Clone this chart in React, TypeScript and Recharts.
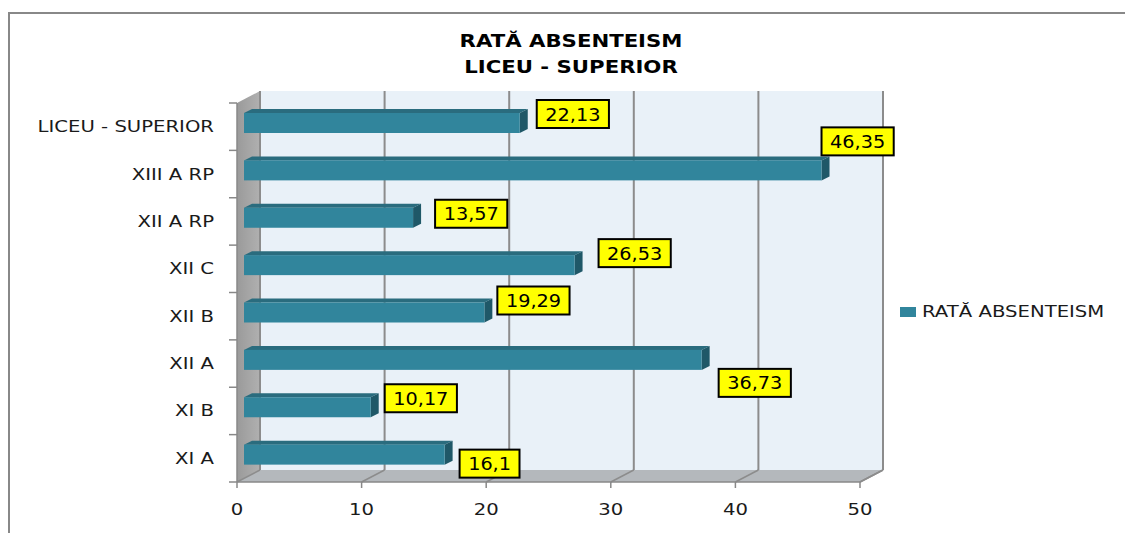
import React from 'react';
import { Bar, BarChart, CartesianGrid, LabelList, Legend, XAxis, YAxis } from 'recharts';

const categories = ['LICEU - SUPERIOR', 'XIII A RP', 'XII A RP', 'XII C', 'XII B', 'XII A', 'XI B', 'XI A'];
const rates = [22.13, 46.35, 13.57, 26.53, 19.29, 36.73, 10.17, 16.1];
const xTicks = [0, 10, 20, 30, 40, 50];
const seriesName = 'RATĂ ABSENTEISM';
const titleLines = ['RATĂ ABSENTEISM', 'LICEU - SUPERIOR'];
// where Excel dropped each yellow label: [from bar end, from bar middle]
const labelShift: [number, number][] = [
  [17, -9], [0, -29], [22, -4], [24, -12], [13, -12], [17, 23], [14, -9], [15, 9],
];

const data = categories.map((name, i) => ({ name, rate: rates[i] }));

const W = 1125;
const H = 533;
const PLOT = { left: 237, right: 860, top: 103, bottom: 482 };
const WALL_DX = 23;
const WALL_DY = -12;
const BAR_DX = 7;
const BAR_DY = -4;
const DEPTH_X = 8;
const DEPTH_Y = -4;
const FONT = '"DejaVu Sans", Verdana, sans-serif';
const TEAL = '#31859c';
const GRID = '#8c8c8c';

const fmt = (v: number) => String(v).replace('.', ',');

function Walls() {
  const { left, right, top, bottom } = PLOT;
  const bl = left + WALL_DX;
  const br = right + WALL_DX;
  const bt = top + WALL_DY;
  const bb = bottom + WALL_DY;
  return (
    <svg width={W} height={H} style={{ position: 'absolute', left: 0, top: 0 }}>
      <defs>
        <linearGradient id="sideWall" x1="0" y1="0" x2="1" y2="0">
          <stop offset="0" stopColor="#9a9a9a" />
          <stop offset="1" stopColor="#b0b0b0" />
        </linearGradient>
      </defs>
      <rect x={bl} y={bt} width={br - bl} height={bb - bt} fill="#e9f1f8" />
      <polygon points={`${left},${top} ${bl},${bt} ${bl},${bb} ${left},${bottom}`} fill="url(#sideWall)" />
      <polygon points={`${left},${bottom} ${bl},${bb} ${br},${bb} ${right},${bottom}`} fill="#b4b8bc" />
      <line x1={right} y1={bottom} x2={br} y2={bb} stroke={GRID} strokeWidth={1.5} />
      {titleLines.map((t, i) => (
        <text
          key={t}
          transform={`translate(571,${47 + i * 26}) scale(1.18,1)`}
          textAnchor="middle"
          fontFamily={FONT}
          fontWeight="bold"
          fontSize={18}
          fill="#000"
        >
          {t}
        </text>
      ))}
    </svg>
  );
}

function Bar3D(p: any) {
  const { x, y, width, height } = p;
  if (!width || width <= 0) return null;
  const fx = x + BAR_DX;
  const fy = y + BAR_DY;
  const ex = fx + width;
  return (
    <g>
      <polygon
        points={`${fx},${fy} ${ex},${fy} ${ex + DEPTH_X},${fy + DEPTH_Y} ${fx + DEPTH_X},${fy + DEPTH_Y}`}
        fill="#2a6c7e"
      />
      <polygon
        points={`${ex},${fy} ${ex + DEPTH_X},${fy + DEPTH_Y} ${ex + DEPTH_X},${fy + height + DEPTH_Y} ${ex},${fy + height}`}
        fill="#1f5868"
      />
      <rect x={fx} y={fy} width={width} height={height} fill={TEAL} />
    </g>
  );
}

function RateLabel(p: any) {
  const vb = p.viewBox && p.viewBox.width != null ? p.viewBox : p;
  const { x, y, width, height } = vb;
  const value = Number(p.value);
  const i = p.index ?? rates.indexOf(value);
  const text = fmt(value);
  const [sx, sy] = labelShift[i] ?? [16, -8];
  const endX = x + width + BAR_DX;
  const midY = y + height / 2 + BAR_DY;
  const boxW = text.replace(',', '').length * 12.3 + 23;
  const boxH = 28;
  const bx = endX + sx;
  const by = midY + sy - boxH / 2;
  return (
    <g>
      <rect x={bx} y={by} width={boxW} height={boxH} fill="#ffff00" stroke="#000" strokeWidth={2} />
      <text
        transform={`translate(${bx + boxW / 2},${by + boxH / 2 + 6.5}) scale(1.07,1)`}
        textAnchor="middle"
        fontFamily={FONT}
        fontSize={18}
        fill="#000"
      >
        {text}
      </text>
    </g>
  );
}

function CategoryTick(p: any) {
  const y = p.y;
  const label = p.payload?.value;
  const idx = categories.indexOf(label);
  const half = (PLOT.bottom - PLOT.top) / categories.length / 2;
  return (
    <g>
      <line x1={PLOT.left - 8} y1={y - half} x2={PLOT.left} y2={y - half} stroke="#888" strokeWidth={1.5} />
      {idx === categories.length - 1 && (
        <line x1={PLOT.left - 8} y1={y + half} x2={PLOT.left} y2={y + half} stroke="#888" strokeWidth={1.5} />
      )}
      <text
        transform={`translate(${PLOT.left - 23},${y + 5.5}) scale(1.31,1)`}
        textAnchor="end"
        fontFamily={FONT}
        fontSize={15}
        fill="#1a1a1a"
      >
        {label}
      </text>
    </g>
  );
}

function ValueTick(p: any) {
  return (
    <text
      transform={`translate(${p.x},${PLOT.bottom + 33}) scale(1.31,1)`}
      textAnchor="middle"
      fontFamily={FONT}
      fontSize={15}
      fill="#1a1a1a"
    >
      {p.payload?.value}
    </text>
  );
}

function LegendBox(p: any) {
  const name = p.payload?.[0]?.value ?? seriesName;
  return (
    <div style={{ display: 'flex', alignItems: 'center', fontFamily: FONT, fontSize: 15, color: '#1a1a1a' }}>
      <span style={{ display: 'inline-block', width: 16, height: 10, background: TEAL, marginRight: 6 }} />
      <span style={{ display: 'inline-block', whiteSpace: 'nowrap', transform: 'scaleX(1.31)', transformOrigin: 'left center' }}>
        {name}
      </span>
    </div>
  );
}

function GridLine(p: any) {
  const x = p.x1;
  return (
    <g key={p.key ?? `grid-${x}`}>
      <line x1={x + WALL_DX} y1={p.y1 + WALL_DY} x2={x + WALL_DX} y2={p.y2 + WALL_DY} stroke={GRID} strokeWidth={2} />
      <line x1={x} y1={p.y2} x2={x + WALL_DX} y2={p.y2 + WALL_DY} stroke={GRID} strokeWidth={1.5} />
    </g>
  );
}

export default function App() {
  return (
    <div style={{ position: 'absolute', left: 0, top: 0, width: W, height: H, background: '#fff', overflow: 'hidden' }}>
      <div
        style={{
          position: 'absolute', left: 8, top: 12, width: W, height: H,
          borderTop: '2px solid #888', borderLeft: '2px solid #888',
        }}
      />
      <Walls />
      <div style={{ position: 'absolute', left: 0, top: 0 }}>
        <BarChart
          width={W}
          height={H}
          data={data}
          layout="vertical"
          barSize={20}
          margin={{ top: PLOT.top, right: W - PLOT.right, bottom: H - PLOT.bottom - 30, left: 0 }}
        >
          <CartesianGrid horizontal={false} vertical={(props: any) => <GridLine {...props} />} />
          <XAxis
            type="number"
            domain={[0, 50]}
            ticks={xTicks}
            interval={0}
            height={30}
            axisLine={{ stroke: '#888', strokeWidth: 1.5 }}
            tickLine={{ stroke: '#888', strokeWidth: 1.5 }}
            tickSize={6}
            tick={<ValueTick />}
          />
          <YAxis
            type="category"
            dataKey="name"
            width={PLOT.left}
            interval={0}
            axisLine={{ stroke: '#888', strokeWidth: 1.5 }}
            tickLine={false}
            tick={<CategoryTick />}
          />
          <Legend
            layout="vertical"
            align="center"
            verticalAlign="middle"
            content={<LegendBox />}
            wrapperStyle={{ left: 900, top: 303, width: 220 }}
          />
          <Bar dataKey="rate" name={seriesName} fill={TEAL} shape={<Bar3D />} isAnimationActive={false}>
            <LabelList dataKey="rate" content={<RateLabel />} />
          </Bar>
        </BarChart>
      </div>
    </div>
  );
}
